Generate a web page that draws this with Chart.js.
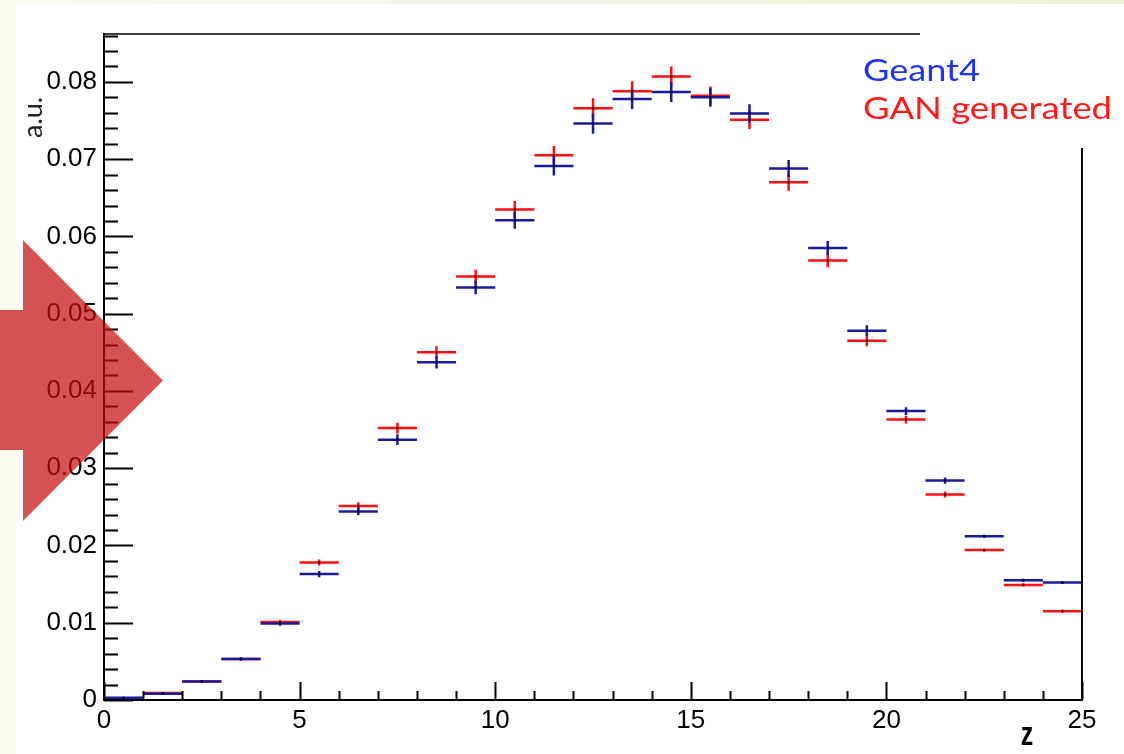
<!DOCTYPE html>
<html>
<head>
<meta charset="utf-8">
<script src="https://cdn.jsdelivr.net/npm/chart.js@4.4.1/dist/chart.umd.min.js"></script>
<style>
  html, body { margin: 0; padding: 0; }
  body { width: 1124px; height: 754px; background: #fbfbf4; position: relative; overflow: hidden; }
  .topband { position: absolute; left: 0; top: 0; width: 1124px; height: 4px; background: linear-gradient(to right, #fafbf3, #eef0da); }
  .sheet { position: absolute; left: 16px; top: 4px; right: 0; bottom: 0; background: #fff; }
  #plot { position: absolute; left: 0; top: 0; }
  .arrow { position: absolute; left: 0; top: 0; pointer-events: none; }
</style>
</head>
<body>
<div class="topband"></div>
<div class="sheet"></div>
<canvas id="plot" width="1124" height="754"></canvas>
<svg class="arrow" width="1124" height="754">
  <polygon points="0,310 23,310 23,240 163,380.5 23,521 23,450 0,450" fill="rgba(196,10,10,0.7)"/>
</svg>
<script>
  // bin lower edges (width 1 in z)
  const bins = [0, 1, 2, 3, 4, 5, 6, 7, 8, 9, 10, 11, 12, 13, 14, 15, 16, 17, 18, 19, 20, 21, 22, 23, 24];

  const geant4 = [0.0003, 0.0008, 0.0024, 0.0053, 0.0099, 0.0163, 0.0244, 0.0337, 0.0437, 0.0534, 0.0621, 0.0691, 0.0746, 0.0778, 0.0787, 0.0780, 0.0759, 0.0688, 0.0585, 0.0478, 0.0374, 0.0284, 0.0212, 0.0155, 0.0152];
  const geant4Err = [0.0001, 0.0001, 0.0002, 0.0002, 0.0003, 0.0004, 0.0005, 0.0007, 0.0008, 0.0009, 0.0011, 0.0012, 0.0013, 0.0013, 0.0013, 0.0012, 0.0012, 0.0011, 0.0009, 0.0007, 0.0005, 0.0004, 0.0002, 0.0002, 0.0002];

  const ganGenerated = [0.0001, 0.0009, 0.0024, 0.0053, 0.0101, 0.0178, 0.0251, 0.0352, 0.0450, 0.0548, 0.0635, 0.0705, 0.0766, 0.0788, 0.0807, 0.0782, 0.0751, 0.0670, 0.0569, 0.0465, 0.0363, 0.0266, 0.0194, 0.0149, 0.0115];
  const ganErr = [0.0001, 0.0001, 0.0002, 0.0002, 0.0003, 0.0004, 0.0005, 0.0007, 0.0008, 0.0009, 0.0011, 0.0012, 0.0013, 0.0013, 0.0013, 0.0012, 0.0012, 0.0011, 0.0009, 0.0007, 0.0005, 0.0004, 0.0002, 0.0002, 0.0002];

  const xTicks = [0, 5, 10, 15, 20, 25];
  const yTicks = [0, 0.01, 0.02, 0.03, 0.04, 0.05, 0.06, 0.07, 0.08];
  const yMax = 0.0862;

  const BLUE = "#1a1a9c";
  const RED = "#ff1010";

  // horizontal bin-width bars, broken between bins
  const binBars = (vals) => {
    const pts = [];
    vals.forEach((v, i) => {
      pts.push({ x: bins[i], y: v }, { x: bins[i] + 1, y: v }, { x: bins[i] + 1, y: null });
    });
    return pts;
  };

  // vertical error bars at bin centres
  const errBars = (vals, errs) => {
    const pts = [];
    vals.forEach((v, i) => {
      const c = bins[i] + 0.5;
      pts.push({ x: c, y: v - errs[i] }, { x: c, y: v + errs[i] }, { x: c, y: null });
    });
    return pts;
  };

  const centres = (vals) => vals.map((v, i) => ({ x: bins[i] + 0.5, y: v }));

  const segStyle = (color, order) => ({
    borderColor: color,
    borderWidth: 2.5,
    pointRadius: 0,
    fill: false,
    tension: 0,
    spanGaps: false,
    order: order,
  });

  const markStyle = {
    showLine: false,
    pointStyle: "rect",
    pointRadius: 1.4,
    pointBackgroundColor: "#000",
    pointBorderWidth: 0,
    order: 0,
  };

  // ROOT-like frame, inner ticks, titles and legend text
  const rootFrame = {
    id: "rootFrame",
    afterDraw(chart) {
      const ctx = chart.ctx;
      const { left, right, top, bottom } = chart.chartArea;
      const xs = chart.scales.x;
      const ys = chart.scales.y;
      ctx.save();
      ctx.strokeStyle = "#000";

      ctx.lineWidth = 2;
      ctx.beginPath();
      ctx.moveTo(left, top - 1);
      ctx.lineTo(left, bottom);
      ctx.lineTo(right, bottom);
      ctx.lineTo(right, 148);
      ctx.stroke();

      ctx.lineWidth = 1.6;
      ctx.beginPath();
      ctx.moveTo(left, top);
      ctx.lineTo(920, top);
      ctx.stroke();

      // y ticks
      ctx.lineWidth = 2;
      ctx.beginPath();
      for (let k = 0; k <= 43; k++) {
        const v = k * 0.002;
        const y = Math.round(ys.getPixelForValue(v)) + 0.5;
        const len = k % 5 === 0 ? 29 : 14;
        ctx.moveTo(left, y);
        ctx.lineTo(left + len, y);
      }
      // x ticks
      for (let k = 0; k <= 25; k++) {
        const x = Math.round(xs.getPixelForValue(k)) + 0.5;
        const len = k % 5 === 0 ? 18 : 9;
        ctx.moveTo(x, bottom);
        ctx.lineTo(x, bottom - len);
      }
      ctx.stroke();

      // axis titles
      ctx.fillStyle = "#222";
      ctx.font = '27px "Lato"';
      ctx.textAlign = "left";
      ctx.textBaseline = "alphabetic";
      ctx.save();
      ctx.translate(42, 138);
      ctx.rotate(-Math.PI / 2);
      ctx.fillText("a.u.", 0, 0);
      ctx.restore();

      ctx.fillStyle = "#000";
      ctx.font = 'bold 32px "Liberation Sans"';
      ctx.save();
      ctx.translate(1027, 745);
      ctx.scale(0.78, 1.05);
      ctx.textAlign = "center";
      ctx.fillText("z", 0, 0);
      ctx.restore();

      // legend
      const legendText = (txt, color, x, y, width) => {
        ctx.font = '31px "Lato"';
        const w = ctx.measureText(txt).width;
        ctx.save();
        ctx.translate(x, y);
        ctx.scale(width / w, 1);
        ctx.fillStyle = color;
        ctx.textAlign = "left";
        ctx.fillText(txt, 0, 0);
        ctx.restore();
      };
      legendText("Geant4", "#1c36ee", 863, 81, 117);
      legendText("GAN generated", "#ff1a1a", 863, 119, 249);

      ctx.restore();
    },
  };

  const ctx = document.getElementById("plot").getContext("2d");
  new Chart(ctx, {
    type: "line",
    data: {
      datasets: [
        { label: "Geant4", data: binBars(geant4), ...segStyle(BLUE, 1) },
        { label: "Geant4 err", data: errBars(geant4, geant4Err), ...segStyle(BLUE, 1) },
        { label: "GAN generated", data: binBars(ganGenerated), ...segStyle(RED, 2) },
        { label: "GAN err", data: errBars(ganGenerated, ganErr), ...segStyle(RED, 2) },
        { label: "Geant4 pts", data: centres(geant4), ...markStyle },
        { label: "GAN pts", data: centres(ganGenerated), ...markStyle },
      ],
    },
    options: {
      responsive: false,
      animation: false,
      devicePixelRatio: 1,
      layout: { padding: { left: 0, right: 42, top: 34, bottom: 0 } },
      plugins: { legend: { display: false }, tooltip: { enabled: false } },
      scales: {
        x: {
          type: "linear",
          min: 0,
          max: 25,
          grid: { display: false, drawTicks: false },
          border: { display: false },
          ticks: {
            color: "#000",
            font: { family: "Liberation Sans", size: 26 },
            padding: 5,
            maxRotation: 0,
            autoSkip: false,
          },
          afterBuildTicks: (s) => { s.ticks = xTicks.map((v) => ({ value: v })); },
          afterFit: (s) => { s.height = 54; },
        },
        y: {
          type: "linear",
          min: 0,
          max: yMax,
          grid: { display: false, drawTicks: false },
          border: { display: false },
          ticks: {
            color: "#000",
            font: { family: "Liberation Sans", size: 26 },
            padding: 7,
            callback: (v) => (v === 0 ? "0" : v.toFixed(2)),
          },
          afterBuildTicks: (s) => { s.ticks = yTicks.map((v) => ({ value: v })); },
          afterFit: (s) => { s.width = 104; },
        },
      },
    },
    plugins: [rootFrame],
  });
</script>
</body>
</html>
